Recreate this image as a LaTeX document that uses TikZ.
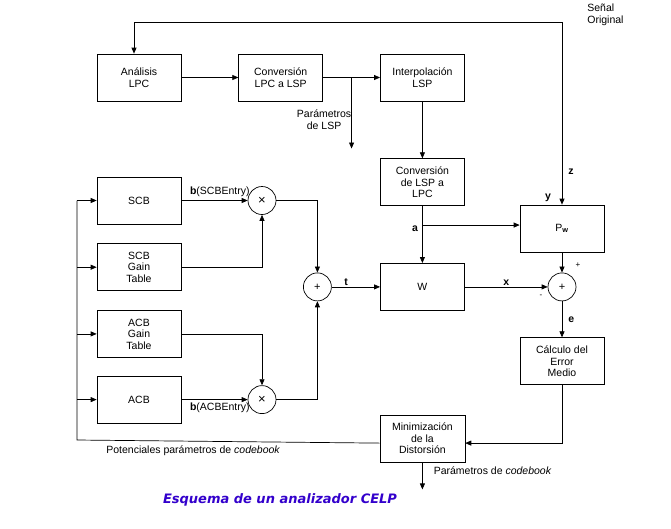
\documentclass[tikz,border=0pt]{standalone}
\usepackage{fontspec}
\setmainfont{Liberation Sans}
\newfontfamily\titlefont{DejaVu Sans}
\usepackage{xcolor}
\usetikzlibrary{positioning, arrows.meta, calc}

\definecolor{titleblue}{RGB}{51,0,204}

\begin{document}
\begin{tikzpicture}[
  x=1pt, y=1pt,
  node distance=57pt and 57pt,
  line width=0.7pt,
  blk/.style={draw, minimum width=84pt, minimum height=47pt, inner sep=1pt,
    align=center, font=\fontsize{10.5}{11.5}\selectfont},
  circ/.style={draw, circle, minimum size=28pt, inner sep=0pt,
    font=\fontsize{11}{12}\selectfont},
  arr/.style={-{Triangle[length=6pt, width=5pt]}},
  lbl/.style={font=\fontsize{10.5}{11.5}\selectfont, inner sep=1pt},
  bl/.style={font=\fontsize{10.5}{11.5}\selectfont\bfseries, inner sep=1pt}
]
\useasboundingbox (0,0) rectangle (671,-528);

% upper chain
\node[blk] (lpc) at (139,-77.5) {Análisis\\LPC};
\node[blk, right=of lpc] (lsp) {Conversión\\LPC a LSP};
\node[blk, right=of lsp] (interp) {Interpolación\\LSP};
\node[blk, below=of interp] (lsplpc) {Conversión\\de LSP a\\LPC};
\node[blk, below=of lsplpc] (wfil) {W};
\node[blk] (pfil) at (562,-228.5) {P\textsubscript{\textbf{w}}};
\node[circ] (sumr) at (pfil |- wfil) {+};
\node[blk, below=85pt of pfil] (err) {Cálculo del\\Error\\Medio};
\node[blk, below=104pt of wfil, minimum width=85pt] (mind)
  {Minimización\\de la\\Distorsión};

% codebooks
\node[blk] (scb) at (139,-200.5) {SCB};
\node[blk, below=19pt of scb] (scbg) {SCB\\Gain\\Table};
\node[blk, below=19pt of scbg] (acbg) {ACB\\Gain\\Table};
\node[blk, below=18pt of acbg] (acb) {ACB};
\node[circ, font=\fontsize{13}{14}\selectfont] (mulscb)
  at ([xshift=123pt]scb.center) {×};
\node[circ, font=\fontsize{13}{14}\selectfont] (mulacb)
  at ([xshift=123pt]acb.center) {×};
\node[circ] (sumt) at ([xshift=-105pt]wfil.center) {+};

\node[lbl, anchor=west, align=left] (senal) at (586,-15) {Señal\\Original};
\node[font=\titlefont\bfseries\itshape\fontsize{13}{15}\selectfont,
  text=titleblue] (title) at (280,-500) {Esquema de un analizador CELP};

% original signal
\coordinate (orig) at (pfil.north |- 0,-22);
\draw[arr] (orig) -| ([xshift=-5pt]lpc.north);
\draw[arr] (orig) -- (pfil.north)
  node[bl, pos=0.82, right=5pt] {z};
\node[bl] at ([xshift=-14pt, yshift=7pt]pfil.north) {y};

\draw[arr] (lpc) -- (lsp);
\draw[arr] (lsp) -- (interp);
\coordinate (lspbr) at ($(lsp.east)!0.5!(interp.west)$);
\coordinate (lspend) at ([yshift=-71pt]lspbr);
\draw[arr] (lspbr) -- (lspend);
\node[lbl, anchor=east, align=center] at ([xshift=1pt, yshift=-42pt]lspbr)
  {Parámetros\\de LSP};
\draw[arr] (interp) -- (lsplpc);

\coordinate (abr) at ([yshift=-19pt]lsplpc.south);
\draw[arr] (lsplpc) -- (wfil);
\draw[arr] (abr) -- (abr -| pfil.west);
\node[bl, left=3pt] at ([yshift=-4pt]abr) {a};

\draw[arr] (sumt) -- (wfil) node[bl, pos=0.3, above] {t};
\draw[arr] (wfil) -- (sumr) node[bl, midway, above] {x};
\draw[arr] (pfil) -- (sumr);
\node[lbl, font=\fontsize{8}{9}\selectfont] at ([xshift=16pt, yshift=22pt]sumr.center) {+};
\node[lbl, font=\fontsize{8}{9}\selectfont] at ([xshift=-21pt, yshift=-9pt]sumr.center) {-};
\draw[arr] (sumr) -- (err) node[bl, midway, right=5pt] {e};
\draw[arr] (err.south) |- ([yshift=-4.5pt]mind.east);

\coordinate (cbout) at ([yshift=-27pt]mind.south);
\draw[arr] (mind) -- (cbout);
\node[lbl, anchor=west] at ([xshift=10pt, yshift=-8pt]mind.south)
  {Parámetros de \textit{codebook}};

% feedback to codebooks
\coordinate (fbl) at (77,-440);
\draw ([yshift=-4.5pt]mind.west) -- (fbl) -- (fbl |- scb);
\foreach \b in {scb, scbg, acbg, acb}
  \draw[arr] (fbl |- \b) -- (\b.west);
\node[lbl, anchor=west] at (105,-451)
  {Potenciales parámetros de \textit{codebook}};

\draw[arr] (scb) -- (mulscb)
  node[lbl, pos=0.58, above=2pt] {\textbf{b}(SCBEntry)};
\draw[arr] (scbg.east) -| (mulscb.south);
\draw[arr] (mulscb.east) -| (sumt.north);
\draw[arr] (acbg.east) -| (mulacb.north);
\draw[arr] (acb) -- (mulacb)
  node[lbl, pos=0.58, below=2pt] {\textbf{b}(ACBEntry)};
\draw[arr] (mulacb.east) -| (sumt.south);
\end{tikzpicture}
\end{document}
